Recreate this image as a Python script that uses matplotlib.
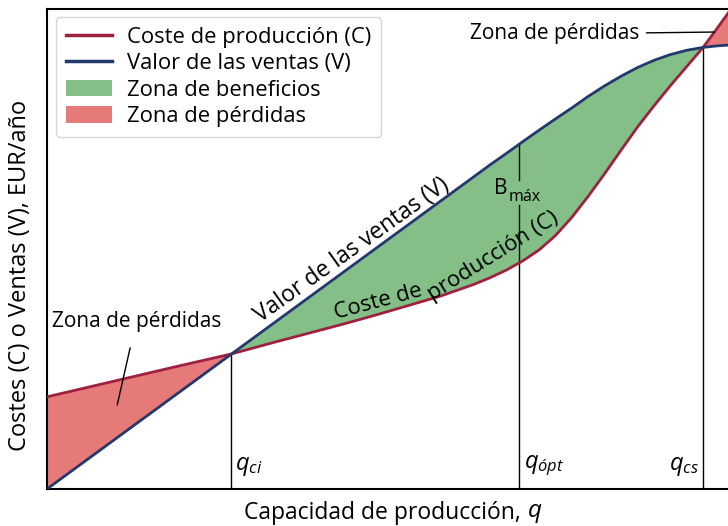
import matplotlib
matplotlib.use("Agg")
import matplotlib.pyplot as plt
import numpy as np
from matplotlib.lines import Line2D
from matplotlib.patches import Patch

plt.rcParams['font.family'] = ['Open Sans', 'DejaVu Sans']
plt.rcParams['mathtext.fontset'] = 'custom'
plt.rcParams['mathtext.it'] = 'Open Sans:italic'
plt.rcParams['mathtext.rm'] = 'Open Sans'

# Data (arbitrary units)
q = [0, 1, 2, 2.8, 3.5, 4.0, 4.5, 5.0, 5.5, 6.0, 6.5, 6.75, 7.0, 7.25, 7.5, 7.75,
     8.0, 8.25, 8.5, 8.75, 9.0, 9.25, 9.5, 9.75, 10.0, 10.2, 10.4]
ventas = [0, 1, 2, 2.8, 3.5, 4.0, 4.5, 5.0, 5.5, 6.0, 6.5, 6.75, 6.99, 7.235, 7.475, 7.71,
          7.94, 8.18, 8.40, 8.60, 8.78, 8.93, 9.05, 9.14, 9.20, 9.23, 9.25]
coste = [1.92, 2.24, 2.56, 2.81, 3.07, 3.25, 3.43, 3.62, 3.82, 4.02, 4.26, 4.40, 4.56, 4.75, 4.98, 5.28,
         5.66, 6.10, 6.57, 7.06, 7.54, 7.98, 8.40, 8.80, 9.20, 9.57, 9.95]
q_ci, q_opt, q_cs = 2.8, 7.2, 10.0
tick_names = [r'$q_{ci}$', r'$q_{ópt}$', r'$q_{cs}$']

W, H = 728, 526
fig = plt.figure(figsize=(W / 100, H / 100), dpi=100)
x0, x1, ytop, ybot = 47, 728, 9, 489
ax = fig.add_axes([x0 / W, 1 - ybot / H, (x1 - x0) / W, (ybot - ytop) / H])
ax.set_xlim(0, 10.38)
ax.set_ylim(0, 10)

qa = np.array(q); va = np.array(ventas); ca = np.array(coste)
green = '#84bf88'
pink = '#e57a79'
red_line = '#a0203f'
blue_line = '#22396d'

ax.fill_between(qa, va, ca, where=va >= ca, interpolate=True, color=green, lw=0, zorder=1)
ax.fill_between(qa, va, ca, where=ca >= va, interpolate=True, color=pink, lw=0, zorder=1)
ax.plot(qa, ca, color=red_line, lw=2.0, zorder=3, solid_joinstyle='round')
ax.plot(qa, va, color=blue_line, lw=2.0, zorder=3, solid_joinstyle='round')

# vertical reference lines
v_ci = np.interp(q_ci, qa, va)
v_opt = np.interp(q_opt, qa, va)
v_cs = np.interp(q_cs, qa, va)
ax.plot([q_ci, q_ci], [0, v_ci], color='black', lw=1.0, zorder=2)
ax.plot([q_cs, q_cs], [0, v_cs], color='black', lw=1.0, zorder=2)
ax.plot([q_opt, q_opt], [0, 5.92], color='black', lw=1.0, zorder=2)
ax.plot([q_opt, q_opt], [6.44, v_opt], color='black', lw=1.0, zorder=2)

fs = 15
ax.text(q_ci + 0.07, 0.22, tick_names[0], fontsize=17, ha='left', va='bottom')
ax.text(q_opt + 0.07, 0.22, tick_names[1], fontsize=17, ha='left', va='bottom')
ax.text(q_cs - 0.07, 0.22, tick_names[2], fontsize=17, ha='right', va='bottom')

# B max label
ax.text(6.82, 6.25, 'B', fontsize=fs, ha='left', va='center')
ax.text(7.04, 6.08, 'máx', fontsize=11.5, ha='left', va='center')

# curve labels
ax.text(4.65, 4.98, 'Valor de las ventas (V)', fontsize=16.5, rotation=35.5,
        ha='center', va='center', rotation_mode='anchor')
ax.text(5.05, 3.9, 'Coste de', fontsize=16, rotation=15,
        ha='center', va='center', rotation_mode='anchor')
ax.text(6.8, 4.85, 'producción (C)', fontsize=16, rotation=32,
        ha='center', va='center', rotation_mode='anchor')

# annotations
ax.annotate('Zona de pérdidas', xy=(1.07, 1.75), xytext=(1.36, 3.5),
            fontsize=fs, ha='center', va='center',
            arrowprops=dict(arrowstyle='-', color='black', lw=1.0, shrinkA=10, shrinkB=0))
ax.annotate('Zona de pérdidas', xy=(10.17, 9.52), xytext=(9.03, 9.48),
            fontsize=fs, ha='right', va='center',
            arrowprops=dict(arrowstyle='-', color='black', lw=1.0, shrinkA=3, shrinkB=0))

for s in ['left', 'bottom', 'top']:
    ax.spines[s].set_linewidth(1.5)
ax.spines['right'].set_visible(False)
ax.set_xticks([]); ax.set_yticks([])

handles = [Line2D([], [], color=red_line, lw=2.5),
           Line2D([], [], color=blue_line, lw=2.5),
           Patch(facecolor=green, edgecolor='none'),
           Patch(facecolor=pink, edgecolor='none')]
labels = ['Coste de producción (C)', 'Valor de las ventas (V)',
          'Zona de beneficios', 'Zona de pérdidas']
leg = ax.legend(handles, labels, loc='upper left', bbox_to_anchor=(0.013, 0.983),
                fontsize=15.8, frameon=True, fancybox=True, edgecolor='#cccccc',
                handlelength=2.1, handleheight=0.8, labelspacing=0.24,
                borderpad=0.45, handletextpad=0.7, borderaxespad=0)
leg.get_frame().set_linewidth(1.0)

fig.text(20 / W, 1 - 275 / H, 'Costes (C) o Ventas (V), EUR/año', rotation=90,
         fontsize=17, ha='center', va='center')
fig.text(527 / W, 1 - 513 / H, 'Capacidad de producción, ', fontsize=16.5,
         ha='right', va='center')
fig.text(527 / W, 1 - 513 / H, '$q$', fontsize=17.5, ha='left', va='center')

fig.savefig('out.png', dpi=100)
